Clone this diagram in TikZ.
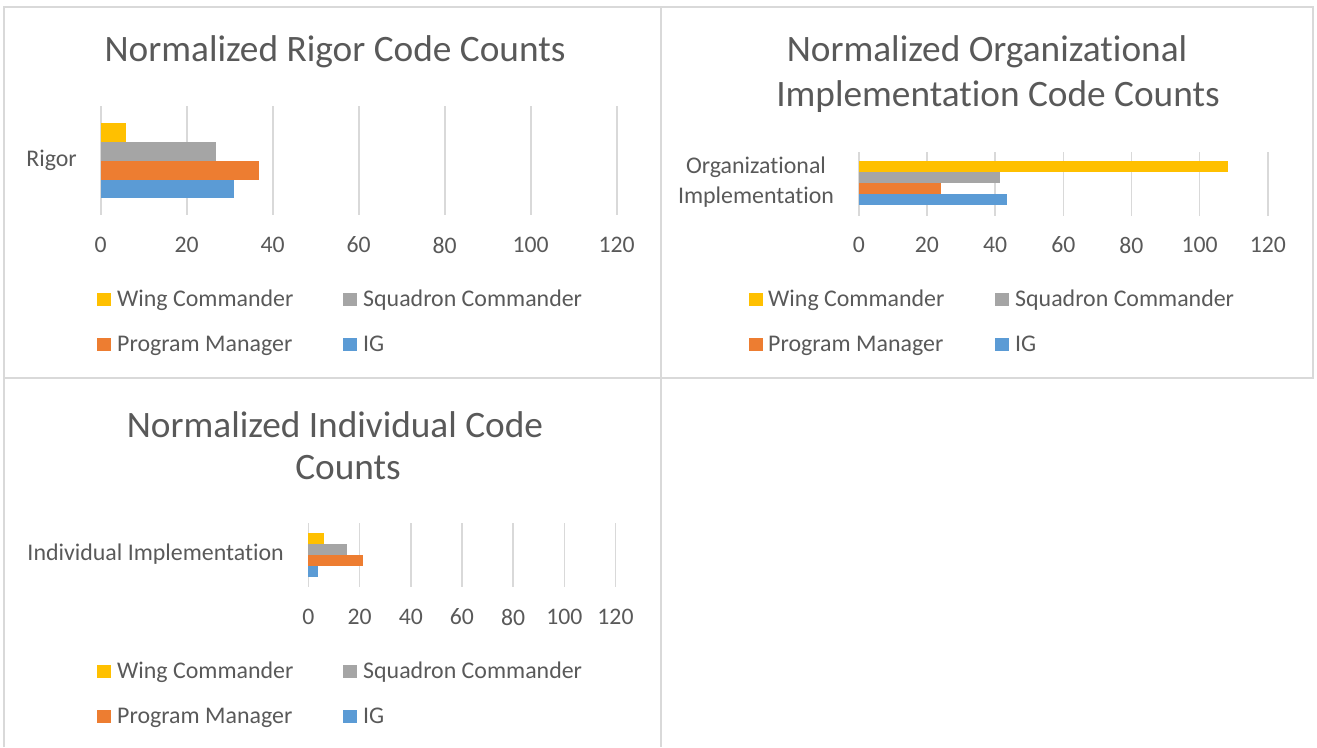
\documentclass[tikz,border=0pt]{standalone}
\usepackage{fontspec}
\setmainfont{Carlito}[Ligatures=NoCommon]
\definecolor{cY}{HTML}{FFC000}
\definecolor{cG}{HTML}{A5A5A5}
\definecolor{cO}{HTML}{ED7D31}
\definecolor{cB}{HTML}{5B9BD5}
\definecolor{grid}{HTML}{D9D9D9}
\definecolor{txt}{HTML}{595959}
\tikzset{
  frame/.style={draw=grid, line width=1.5pt},
  gridline/.style={draw=grid, line width=1.6pt},
  ttl/.style={text=txt, font=\fontsize{37.3}{44}\selectfont, inner sep=0pt},
  lbl/.style={text=txt, font=\fontsize{23.9}{30}\selectfont, inner sep=0pt},
  tick/.style={text=txt, font=\fontsize{23.7}{28}\selectfont, inner sep=0pt},
  leg/.style={text=txt, font=\fontsize{23.9}{28}\selectfont, inner sep=0pt, anchor=base west},
}
\begin{document}
\begin{tikzpicture}[x=1pt,y=-1pt]
\useasboundingbox (0,0) rectangle (1317,747);
% frames
\draw[frame] (4,747) -- (4,7) -- (1313,7) -- (1313,378) -- (4,378);
\draw[frame] (661,7) -- (661,747);

% ---------- Chart 1 ----------
\node[ttl] (t1) at (335,52) {Normalized Rigor Code Counts};
\foreach \i in {0,...,6} {
  \draw[gridline] (100.7+\i*86.0,106) -- (100.7+\i*86.0,215);
  \pgfmathtruncatemacro{\v}{\i*20}
  \node[tick] (a1t\i) at (100.7+\i*86.0,245) {\v};
}
\fill[cY] (100.7,123) rectangle (100.7+5.8*4.3,142);
\fill[cG] (100.7,142) rectangle (100.7+26.9*4.3,161);
\fill[cO] (100.7,161) rectangle (100.7+36.9*4.3,179.5);
\fill[cB] (100.7,179.5) rectangle (100.7+31.0*4.3,198);
\node[lbl, anchor=east] (c1) at (77,160) {Rigor};
\fill[cY] (97,293) rectangle (111,306); \node[leg] (l1a) at (117,306) {Wing Commander};
\fill[cG] (343,293) rectangle (357,306); \node[leg] (l1b) at (363,306) {Squadron Commander};
\fill[cO] (97,338) rectangle (111,351); \node[leg] (l1c) at (117,351) {Program Manager};
\fill[cB] (343,338) rectangle (357,351); \node[leg] (l1d) at (363,351) {IG};

% ---------- Chart 2 ----------
\node[ttl] (t2a) at (987,52) {Normalized Organizational};
\node[ttl] (t2b) at (998,97) {Implementation Code Counts};
\foreach \i in {0,...,6} {
  \draw[gridline] (858.8+\i*68.17,152) -- (858.8+\i*68.17,216);
  \pgfmathtruncatemacro{\v}{\i*20}
  \node[tick] (a2t\i) at (858.8+\i*68.17,245) {\v};
}
\fill[cY] (858.8,161) rectangle (858.8+108.3*3.408,172);
\fill[cG] (858.8,172) rectangle (858.8+41.3*3.408,183);
\fill[cO] (858.8,183) rectangle (858.8+24.2*3.408,194);
\fill[cB] (858.8,194) rectangle (858.8+43.4*3.408,205);
\node[lbl, align=center] (c2) at (756,182) {Organizational\\Implementation};
\fill[cY] (749,293) rectangle (763,306); \node[leg] (l2a) at (768,306) {Wing Commander};
\fill[cG] (995,293) rectangle (1009,306); \node[leg] (l2b) at (1015,306) {Squadron Commander};
\fill[cO] (749,338) rectangle (763,351); \node[leg] (l2c) at (768,351) {Program Manager};
\fill[cB] (995,338) rectangle (1009,351); \node[leg] (l2d) at (1015,351) {IG};

% ---------- Chart 3 ----------
\node[ttl] (t3a) at (335,425) {Normalized Individual Code};
\node[ttl] (t3b) at (348,468) {Counts};
\foreach \i in {0,...,6} {
  \draw[gridline] (308.4+\i*51.18,523) -- (308.4+\i*51.18,587);
  \pgfmathtruncatemacro{\v}{\i*20}
  \node[tick] (a3t\i) at (308.4+\i*51.18,617) {\v};
}
\fill[cY] (308.4,533) rectangle (308.4+5.9*2.559,544);
\fill[cG] (308.4,544) rectangle (308.4+15.0*2.559,555);
\fill[cO] (308.4,555) rectangle (308.4+21.3*2.559,566);
\fill[cB] (308.4,566) rectangle (308.4+3.6*2.559,577);
\node[lbl, anchor=east] (c3) at (284,554) {Individual Implementation};
\fill[cY] (97,665) rectangle (111,678); \node[leg] (l3a) at (117,678) {Wing Commander};
\fill[cG] (343,665) rectangle (357,678); \node[leg] (l3b) at (363,678) {Squadron Commander};
\fill[cO] (97,710) rectangle (111,723); \node[leg] (l3c) at (117,723) {Program Manager};
\fill[cB] (343,710) rectangle (357,723); \node[leg] (l3d) at (363,723) {IG};
\end{tikzpicture}
\end{document}
